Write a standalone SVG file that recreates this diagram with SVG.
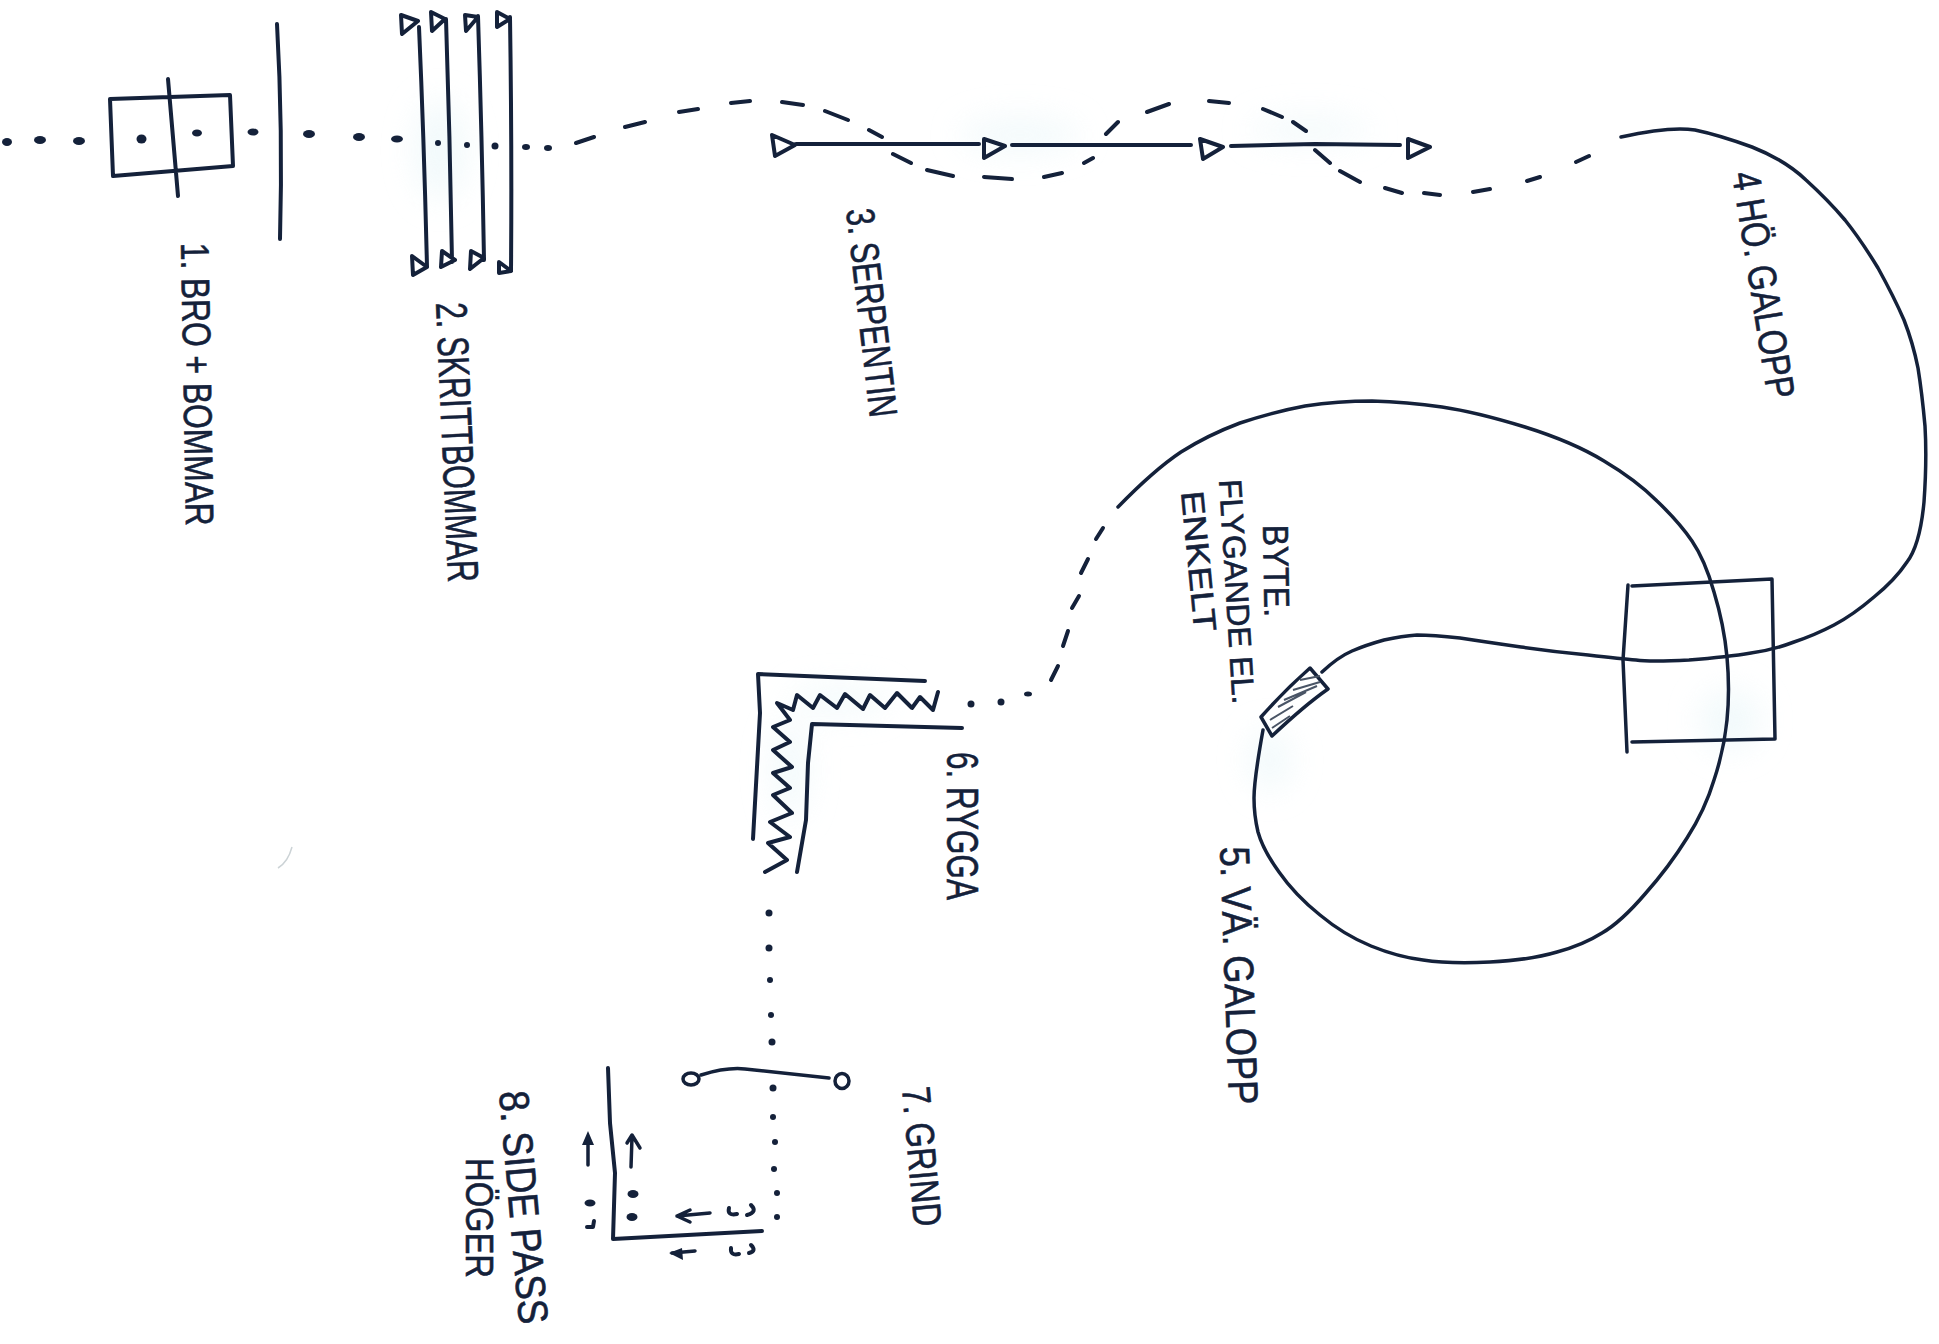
<svg xmlns="http://www.w3.org/2000/svg" width="1939" height="1344" viewBox="0 0 1939 1344">
<style>
.s{fill:none;stroke:#14213a;stroke-width:4;stroke-linecap:round;stroke-linejoin:round}
.t{stroke-width:3.500}
.d{fill:#14213a}
.l{font-family:"Liberation Sans",Arial,sans-serif;fill:#14213a;font-weight:400;stroke:#14213a;stroke-width:.6}
</style>
<defs>
<filter id="b" x="-50%" y="-50%" width="200%" height="200%"><feGaussianBlur stdDeviation="16"/></filter>
</defs>
<rect width="1939" height="1344" fill="#fff"/>
<g id="paper" fill="#e6f5f8" filter="url(#b)" opacity=".55">
<ellipse cx="440" cy="150" rx="25" ry="50"/>
<ellipse cx="1020" cy="135" rx="60" ry="16"/>
<ellipse cx="1310" cy="130" rx="60" ry="12"/>
<ellipse cx="790" cy="770" rx="16" ry="50"/>
<ellipse cx="840" cy="700" rx="50" ry="12"/>
<ellipse cx="1730" cy="720" rx="30" ry="30"/>
<ellipse cx="1270" cy="760" rx="20" ry="30"/>
</g>
<path d="M278 868Q288 862 292 847" fill="none" stroke="#ccd3d6" stroke-width="1.500"/>

<g id="connectors">
<g class="d">
<ellipse cx="7" cy="142" rx="5" ry="4"/><ellipse cx="40" cy="140" rx="6" ry="4"/><ellipse cx="79" cy="141" rx="6" ry="4"/>
<ellipse cx="253" cy="132" rx="5.500" ry="3.500"/><ellipse cx="309" cy="134" rx="6" ry="4"/><ellipse cx="359" cy="137" rx="6" ry="4"/><ellipse cx="397" cy="139" rx="6" ry="3.500"/>
<circle cx="438" cy="143" r="3"/><circle cx="467" cy="145" r="3"/><circle cx="495" cy="146" r="3.500"/><ellipse cx="526" cy="147" rx="4" ry="3"/><ellipse cx="548" cy="148" rx="4" ry="3"/>
<circle cx="971" cy="704" r="3.500"/><circle cx="1001" cy="702" r="3.500"/><ellipse cx="1028" cy="694" rx="4" ry="2.500"/>
<circle cx="769" cy="913" r="3.500"/><circle cx="769" cy="948" r="3.500"/><circle cx="770" cy="980" r="3"/><circle cx="771" cy="1015" r="3"/><circle cx="772" cy="1042" r="3.500"/>
<circle cx="773" cy="1088" r="3.500"/><circle cx="773" cy="1117" r="3"/><circle cx="775" cy="1142" r="3"/><circle cx="774" cy="1169" r="3"/><circle cx="777" cy="1193" r="3"/><circle cx="777" cy="1217" r="3"/>
</g>
<path class="s" d="M576 143L594 137M625 127L645 122M679 112L698 109M731 103L750 101M782 102L803 105M825 111L848 120M869 130L882 137M893 154L911 163M927 170L953 176M984 177L1012 179M1044 177L1062 173M1084 163L1093 158M1106 134L1118 122M1147 112L1169 104M1209 101L1229 103M1263 109L1282 117M1293 122L1306 131M1315 150L1330 163M1340 171L1360 182M1385 188L1402 193M1424 193L1440 195M1473 192L1490 189M1527 181L1540 177M1576 162L1589 156"/>
<path class="s t" d="M1621 137Q1670 126 1695 130Q1719 135 1752 147Q1785 160 1806 180Q1828 200 1845 220Q1861 240 1878 268Q1894 297 1904 320Q1913 343 1918 368Q1922 393 1925 426Q1927 460 1924 502Q1920 545 1907 562Q1895 580 1874 597Q1853 615 1834 625Q1815 635 1794 642Q1773 650 1751 653Q1728 657 1689 660Q1650 662 1636 660Q1622 659 1588 655Q1556 652 1521 647Q1486 642 1460 638Q1433 635 1417 635Q1402 636 1384 640Q1366 645 1352 651Q1338 657 1322 672"/>
<path class="s t" d="M1263 730Q1254 780 1254 798Q1254 815 1258 832Q1263 850 1279 872Q1295 895 1320 915Q1344 935 1371 946Q1398 957 1423 960Q1449 964 1490 962Q1530 960 1557 952Q1583 945 1602 933Q1621 922 1645 894Q1669 867 1687 838Q1705 810 1714 780Q1724 750 1727 720Q1730 690 1727 657Q1724 625 1714 592Q1705 560 1692 541Q1679 522 1657 501Q1636 480 1604 461Q1573 442 1525 427Q1476 412 1442 407Q1407 402 1372 401Q1338 401 1305 406Q1273 412 1240 423Q1208 435 1181 452Q1154 470 1118 507"/>
<path class="s" d="M1051 680L1058 666M1063 646L1068 631M1072 608L1079 596M1081 573L1088 559M1096 539L1103 528"/>
</g>

<g id="node-1-bro-bommar">
<path class="s" d="M110 99L230 95L233 166L113 176ZM168 79L178 196"/>
<ellipse class="d" cx="141.500" cy="139" rx="5" ry="4.500"/>
<ellipse class="d" cx="197" cy="133" rx="5" ry="3.500"/>
<text class="l" transform="translate(181 243) rotate(89)" font-size="40" textLength="283" lengthAdjust="spacingAndGlyphs">1. BRO + BOMMAR</text>
<path class="s" d="M277 24Q283 130 280 239"/>
</g>

<g id="node-2-skrittbommar">
<path class="s" d="M419 27Q424 140 427 267M401 15L418 21L402 34ZM412 256L427 267L413 275Z"/>
<path class="s" d="M446 19Q450 140 452 262M431 12L445 19L432 31ZM442 251L455 260L441 267Z"/>
<path class="s" d="M478 16Q482 140 484 260M465 15L478 17L466 31ZM471 251L484 258L470 269Z"/>
<path class="s" d="M510 17Q512 150 511 271M497 12L510 19L497 27ZM499 262L511 271L499 273Z"/>
<text class="l" transform="translate(436 303) rotate(87.500)" font-size="44" textLength="280" lengthAdjust="spacingAndGlyphs">2. SKRITTBOMMAR</text>
</g>

<g id="node-3-serpentin">
<path class="s" d="M772 135L795 145L775 156ZM796 144L979 144M984 139L1005 146L984 158ZM1012 145L1191 145M1200 139L1223 147L1203 159ZM1231 146L1315 144L1400 145M1408 139L1430 147L1408 158Z"/>
<text class="l" transform="translate(846 210) rotate(83.400)" font-size="40" textLength="210" lengthAdjust="spacingAndGlyphs">3. SERPENTIN</text>
</g>

<g id="node-4-ho-galopp">
<path class="s t" d="M1632 586L1772 579L1775 739L1632 742M1628 585L1623 660L1627 752"/>
<text class="l" transform="translate(1732 174) rotate(81)" font-size="40" textLength="229" lengthAdjust="spacingAndGlyphs">4 HÖ. GALOPP</text>
</g>

<g id="node-5-va-galopp">
<path class="s t" d="M1310 668L1328 689Q1305 705 1272 736L1261 717Q1285 690 1310 668Z"/>
<path fill="none" stroke="#4a5566" stroke-width="2" d="M1272 728L1290 716M1270 720L1293 706M1278 707L1306 692M1284 700L1317 686M1293 690L1320 682M1300 680L1320 676"/>
<text class="l" transform="translate(1263 525) rotate(89)" font-size="36" textLength="92" lengthAdjust="spacingAndGlyphs">BYTE.</text>
<text class="l" transform="translate(1219 480) rotate(86.500)" font-size="32" textLength="225" lengthAdjust="spacingAndGlyphs">FLYGANDE EL.</text>
<text class="l" transform="translate(1181 492) rotate(84.500)" font-size="32" textLength="141" lengthAdjust="spacingAndGlyphs">ENKELT</text>
<text class="l" transform="translate(1220 847) rotate(88)" font-size="42" textLength="258" lengthAdjust="spacingAndGlyphs">5. VÄ. GALOPP</text>
</g>

<g id="node-6-rygga">
<path class="s" d="M925 681L758 674L760 713L753 839M962 728L812 724L808 763L806 820L797 872"/>
<path class="s" d="M938 692L933 710L920 697L912 708L897 693L885 708L870 695L863 709L845 694L837 708L820 695L813 708L797 695L793 710L777 703L790 720L773 727L790 742L773 750L792 767L773 773L790 788L773 795L792 813L770 822L790 837L768 843L787 860L765 872"/>
<text class="l" transform="translate(947 752) rotate(90)" font-size="44" textLength="148" lengthAdjust="spacingAndGlyphs">6. RYGGA</text>
</g>

<g id="node-7-grind">
<ellipse class="s t" cx="691" cy="1079" rx="8" ry="6"/>
<ellipse class="s t" cx="842" cy="1081" rx="7" ry="7.500"/>
<path class="s t" d="M701 1075Q727 1067 745 1069L829 1078"/>
<text class="l" transform="translate(902 1088) rotate(85)" font-size="40" textLength="140" lengthAdjust="spacingAndGlyphs">7. GRIND</text>
</g>

<g id="node-8-side-pass">
<path class="s" d="M608 1068L610 1123L615 1173L613 1239L762 1231"/>
<path class="s t" d="M588 1165L588 1140M631 1167L632 1137M627 1143L632 1135L640 1148M710 1213L677 1216M690 1210L677 1216L690 1222M695 1251L672 1253"/>
<path class="d" d="M588 1131L582 1145L594 1145ZM669 1253L682 1248L683 1260Z"/>
<g class="d">
<ellipse cx="633" cy="1194" rx="5.500" ry="4"/><ellipse cx="632" cy="1217" rx="5.500" ry="4"/><ellipse cx="590" cy="1203" rx="5.500" ry="3.500"/>
</g>
<path class="s" d="M594 1221L593 1227L587 1227M729 1208Q727 1216 737 1214M751 1205Q758 1212 747 1215M731 1248Q730 1256 739 1254M751 1245Q757 1251 749 1253"/>
<text class="l" transform="translate(499 1092) rotate(85)" font-size="42" textLength="234" lengthAdjust="spacingAndGlyphs">8. SIDE PASS</text>
<text class="l" transform="translate(466 1158) rotate(90)" font-size="38" textLength="120" lengthAdjust="spacingAndGlyphs">HÖGER</text>
</g>
</svg>
